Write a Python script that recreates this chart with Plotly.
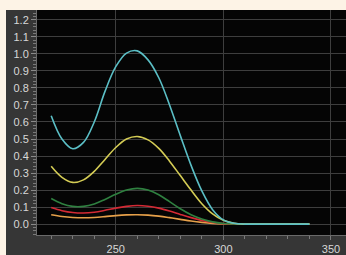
import plotly.graph_objects as go

wavelength = [220, 225, 230, 235, 240, 245, 250, 255, 260, 265, 270, 275, 280,
              285, 290, 295, 300, 305, 310, 315, 320, 325, 330, 335, 340]

cyan =   [0.637, 0.50, 0.443, 0.48, 0.60, 0.78, 0.925, 1.005, 1.018, 0.965, 0.86, 0.70, 0.52,
          0.345, 0.195, 0.085, 0.025, 0.005, 0.0, 0.0, 0.0, 0.0, 0.0, 0.0, 0.0]
yellow = [0.34, 0.275, 0.245, 0.26, 0.31, 0.38, 0.45, 0.50, 0.515, 0.495, 0.445, 0.37, 0.285,
          0.20, 0.12, 0.06, 0.022, 0.005, 0.0, 0.0, 0.0, 0.0, 0.0, 0.0, 0.0]
green =  [0.15, 0.12, 0.104, 0.104, 0.118, 0.145, 0.175, 0.20, 0.21, 0.20, 0.172, 0.132, 0.09,
          0.055, 0.03, 0.013, 0.004, 0.001, 0.0, 0.0, 0.0, 0.0, 0.0, 0.0, 0.0]
red =    [0.097, 0.079, 0.068, 0.065, 0.07, 0.081, 0.094, 0.104, 0.109, 0.105, 0.094, 0.077, 0.057,
          0.038, 0.022, 0.01, 0.003, 0.001, 0.0, 0.0, 0.0, 0.0, 0.0, 0.0, 0.0]
orange = [0.055, 0.045, 0.039, 0.037, 0.039, 0.044, 0.05, 0.054, 0.055, 0.053, 0.047, 0.038, 0.028,
          0.018, 0.01, 0.004, 0.001, 0.0, 0.0, 0.0, 0.0, 0.0, 0.0, 0.0, 0.0]

y_tickvals = [0.0, 0.1, 0.2, 0.3, 0.4, 0.5, 0.6, 0.7, 0.8, 0.9, 1.0, 1.1, 1.2]
x_tickvals = [250, 300, 350]

series = [
    (orange, "#e6a04a"),
    (red, "#d42a35"),
    (green, "#2f8040"),
    (yellow, "#d4cc55"),
    (cyan, "#5bbfc6"),
]

fig = go.Figure()
for vals, col in series:
    fig.add_trace(go.Scatter(x=wavelength, y=vals, mode="lines",
                             line=dict(color=col, width=1.6, shape="spline", smoothing=1.0),
                             showlegend=False, hoverinfo="skip"))

W, H = 346, 255
ml, mr, mt, mb = 37, 0, 10, 18
pw, ph = W - ml - mr, H - mt - mb
cream = "#fdf3e6"

fig.update_layout(
    width=W, height=H,
    margin=dict(l=ml, r=mr, t=mt, b=mb, pad=0),
    paper_bgcolor="#363636",
    plot_bgcolor="#050505",
    font=dict(family="Liberation Sans, Arial, sans-serif", size=11, color="#d8d8d8"),
    shapes=[
        dict(type="rect", xref="paper", yref="paper", x0=-ml / pw - 0.01, x1=1.01,
             y0=1.0, y1=1.0 + mt / ph + 0.01, fillcolor=cream, line=dict(width=0), layer="below"),
        dict(type="rect", xref="paper", yref="paper", x0=-ml / pw - 0.01, x1=(6 - ml) / pw,
             y0=-mb / ph - 0.01, y1=1.0 + mt / ph + 0.01, fillcolor=cream, line=dict(width=0), layer="below"),
    ],
    xaxis=dict(range=[213.4, 357], tickvals=x_tickvals, showgrid=True, gridcolor="#3e3e3e", gridwidth=1,
               zeroline=False, ticks="outside", ticklen=4, tickcolor="#7a7a7a",
               showline=True, linecolor="#6a6a6a", linewidth=1,
               minor=dict(dtick=10, tick0=220, ticks="outside", ticklen=3, tickcolor="#7a7a7a", showgrid=False),
               tickfont=dict(size=11, color="#d8d8d8")),
    yaxis=dict(range=[-0.064, 1.258], tickvals=y_tickvals, tickformat=".1f", showgrid=True,
               gridcolor="#3e3e3e", gridwidth=1, zeroline=False, ticks="outside", ticklen=5,
               tickcolor="#8a8a8a", showline=True, linecolor="#6a6a6a", linewidth=1,
               minor=dict(dtick=0.02, tick0=0, ticks="outside", ticklen=3, tickcolor="#7a7a7a", showgrid=False),
               tickfont=dict(size=11, color="#d8d8d8")),
)

fig.write_html("out.html", config={"displayModeBar": False},
               post_script="document.body.style.margin='0';document.body.style.overflow='hidden';")
